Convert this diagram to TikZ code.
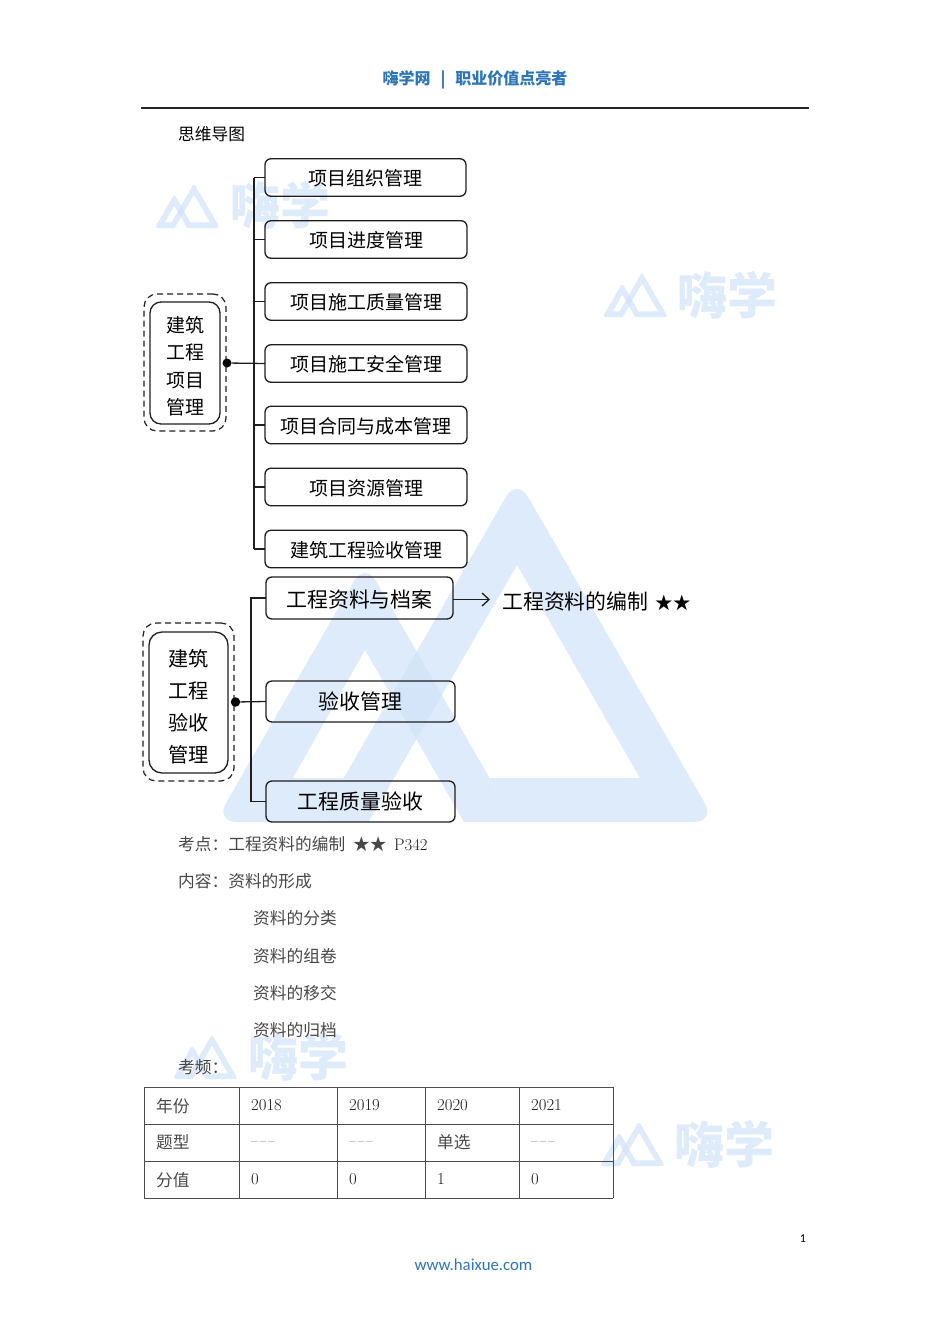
\documentclass[tikz,border=0pt]{standalone}
\usepackage{fontspec}
\setmainfont{Latin Modern Roman}
\newfontfamily\cjk{Noto Sans CJK SC}
\newfontfamily\footfont{Carlito}
\usetikzlibrary{arrows.meta}
\definecolor{wmblue}{RGB}{208,226,249}
\definecolor{linkblue}{RGB}{46,117,182}
\definecolor{inkgray}{RGB}{30,30,30}
\newcommand{\zh}[1]{{\color{black!72}\cjk #1}}
\newcommand{\zhcell}[1]{\raisebox{-1.3pt}{\zh{#1}}}
\newcommand{\nodata}{\raisebox{2.5pt}{\color{black!75}\fontsize{14}{14}\selectfont --\hspace{1.6pt}--\hspace{1.6pt}--}}
\tikzset{x=1pt, y=-1pt}
\tikzset{
  mapbox/.style={draw=inkgray, line width=1.3pt, rounded corners=6pt, inner sep=0pt, outer sep=0pt, text height=18.7pt, text depth=2.3pt, font=\fontsize{19}{19}\selectfont\cjk},
  bigbox/.style={mapbox, text height=18.4pt, text depth=2.5pt, font=\fontsize{20.9}{21}\selectfont\cjk},
  rootbox/.style={draw=inkgray, line width=1.3pt, rounded corners=11pt, inner sep=0pt, outer sep=0pt, align=center},
  dashbox/.style={draw=inkgray, line width=1.2pt, dash pattern=on 6pt off 4pt, rounded corners=13pt, inner sep=0pt, outer sep=0pt},
  branch/.style={draw=inkgray, line width=1.3pt},
  bodytext/.style={anchor=west, inner sep=0pt, text=black!90, font=\fontsize{16.7}{17}\selectfont},
  celltext/.style={anchor=base west, inner sep=0pt, text=black!90, font=\fontsize{16.7}{17}\selectfont},
  gridline/.style={line width=1pt, draw=black!70},
  wmfill/.style={fill=wmblue, fill opacity=0.7},
  wmtext/.style={inner sep=0pt, text=wmblue, opacity=0.7, font=\fontsize{50}{50}\selectfont\cjk\bfseries},
}
% one watermark logo, #1 #2 is the foot of its apex, #3 the scale
\newcommand{\wmlogo}[3]{
\begin{scope}[shift={(#1,#2)},scale=#3]
\fill[wmfill] (-198.7,0) [rounded corners=#3*22pt] -- (0,-344.2) -- (198.7,0) [sharp corners] -- (-2,0) -- (-27,-44) -- (123,-44) -- (0,-257) -- (-148.4,0) -- cycle;
\fill[wmfill] (-53,0) -- (-152,-172) -- (-224,-44) -- (-173.3,-44) -- (-198.7,0) [rounded corners=#3*22pt] -- (-302,0) -- (-152,-260) [sharp corners] -- (-2,0) -- cycle;
\end{scope}
}
\begin{document}
\begin{tikzpicture}
\useasboundingbox (0,0) rectangle (950,1344);

% watermarks
\wmlogo{517}{822}{1}
\wmlogo{194}{228}{0.13}
\wmlogo{642}{317}{0.13}
\wmlogo{212}{1079}{0.13}
\wmlogo{639}{1166}{0.13}
\node[wmtext] (wma) at (280,205) {嗨学};
\node[wmtext] (wmb) at (727,295) {嗨学};
\node[wmtext] (wmc) at (298,1057) {嗨学};
\node[wmtext] (wmd) at (724,1144) {嗨学};

% header and footer
\node[inner sep=0pt, text=linkblue, font=\fontsize{16}{16}\selectfont\cjk\bfseries] (head) at (475,79.5) {嗨学网\hspace{10pt}|\hspace{10pt}职业价值点亮者};
\draw[line width=1.1pt, draw=black!85] (141,108) -- (809,108);
\node[anchor=west, inner sep=0pt, font=\fontsize{16.7}{17}\selectfont\cjk] (title) at (178,133.7) {思维导图};
\node[inner sep=0pt, text=linkblue, font=\fontsize{16.8}{17}\selectfont\footfont] (site) at (473.5,1264.5) {www.haixue.com};
\node[inner sep=0pt, font=\fontsize{12}{12}\selectfont\footfont] (pageno) at (803,1238.7) {1};

% first map
\node[dashbox, minimum width=82pt, minimum height=137pt] (rootadash) at (185,362.5) {};
\node[rootbox, minimum width=70pt, minimum height=122pt, font=\fontsize{19}{27.4}\selectfont\cjk] (roota) at (185,363) {\rule{0pt}{22.7pt}建筑\\工程\\项目\\管理};
\node[mapbox, minimum width=201pt, minimum height=37.5pt] (a1) at (365.5,177.5) {项目组织管理};
\node[mapbox, minimum width=202pt, minimum height=37.5pt] (a2) at (366,239.5) {项目进度管理};
\node[mapbox, minimum width=202pt, minimum height=37.5pt] (a3) at (366,301.5) {项目施工质量管理};
\node[mapbox, minimum width=202pt, minimum height=37.5pt] (a4) at (366,363.5) {项目施工安全管理};
\node[mapbox, minimum width=202pt, minimum height=37.5pt] (a5) at (366,425) {项目合同与成本管理};
\node[mapbox, minimum width=202pt, minimum height=37.5pt] (a6) at (366,487) {项目资源管理};
\node[mapbox, minimum width=202pt, minimum height=37.5pt] (a7) at (366,549) {建筑工程验收管理};
\coordinate (trunka) at (254,363);
\node[circle, fill=black, inner sep=0pt, minimum size=9pt] (dota) at (227,363) {};
\draw[branch] (dota) -- (a4.west);
\draw[branch] (trunka |- a1.west) -- (trunka |- a7.west);
\foreach \n in {a1,a2,a3,a5,a6,a7}
\draw[branch] (trunka |- \n.west) -- (\n.west);

% second map
\node[dashbox, minimum width=91pt, minimum height=158pt] (rootbdash) at (188.5,702) {};
\node[rootbox, minimum width=79pt, minimum height=141pt, rounded corners=13pt, font=\fontsize{20.2}{32}\selectfont\cjk] (rootb) at (188.5,702.5) {\rule{0pt}{26pt}建筑\\工程\\验收\\管理};
\node[bigbox, minimum width=187pt, minimum height=42pt, text height=21.4pt] (b1) at (359.5,598) {工程资料与档案};
\node[bigbox, minimum width=189pt, minimum height=41pt] (b2) at (360.5,701.5) {验收管理};
\node[bigbox, minimum width=189pt, minimum height=41pt] (b3) at (360.5,801.5) {工程质量验收};
\coordinate (trunkb) at (251,702);
\node[circle, fill=black, inner sep=0pt, minimum size=9.5pt] (dotb) at (235.5,702) {};
\draw[branch] (dotb) -- (b2.west);
\draw[branch] (b1.west) -- (trunkb |- b1.west) -- (trunkb |- b3.west) -- (b3.west);
\node[anchor=west, inner sep=0pt, font=\fontsize{20.9}{21}\selectfont\cjk] (b1note) at (502,601.5) {工程资料的编制\hspace{7pt}{\fontsize{17.5}{21}\selectfont ★★}};
\coordinate (b1tip) at (490,599.5);
\draw[branch, -{Straight Barb[length=7pt,width=13pt]}] (b1.east |- b1tip) -- (b1tip);

% body text
\node[bodytext] (t1) at (178,843.7) {\zh{考点：工程资料的编制}\hspace{8pt}\zh{★★}\hspace{7.5pt}P342};
\node[bodytext] (t2) at (178,881) {\zh{内容：资料的形成}};
\foreach \y/\t [count=\i] in {918/资料的分类,955.7/资料的组卷,992.7/资料的移交,1030/资料的归档}
\node[bodytext] (c\i) at (253,\y) {\zh{\t}};
\node[bodytext] (t3) at (178,1067.5) {\zh{考频：}};

% table
\foreach \x in {144,239,337,425,519,613}
\draw[gridline] (\x,1087) -- (\x,1198);
\foreach \y in {1087,1124,1161,1198}
\draw[gridline] (144,\y) -- (613,\y);
\foreach \x/\a/\b/\c [count=\i] in {156/\zhcell{年份}/\zhcell{题型}/\zhcell{分值},251/2018/\nodata/0,349/2019/\nodata/0,437/2020/\zhcell{单选}/1,531/2021/\nodata/0}{
\node[celltext] (ra\i) at (\x,1110.8) {\a};
\node[celltext] (rb\i) at (\x,1147.5) {\b};
\node[celltext] (rc\i) at (\x,1184.8) {\c};
}
\end{tikzpicture}
\end{document}
